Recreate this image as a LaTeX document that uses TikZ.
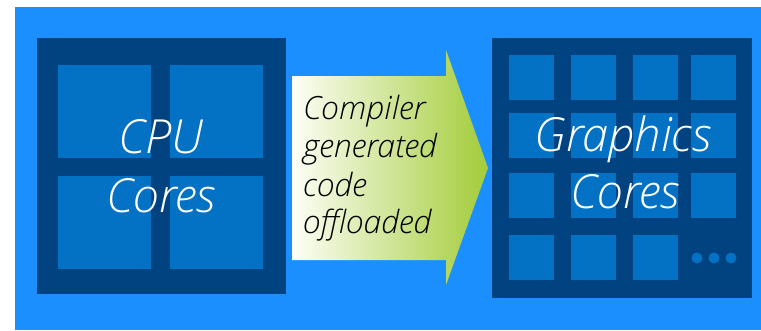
\documentclass[tikz,border=0pt]{standalone}
\usepackage{fontspec}
\setmainfont{Open Sans Light}[ItalicFont={Open Sans Light Italic}]
\definecolor{bgblue}{RGB}{28,143,255}
\definecolor{navy}{RGB}{0,67,128}
\definecolor{core}{RGB}{3,113,196}
\definecolor{ivory}{RGB}{253,254,246}
\definecolor{lime}{RGB}{163,204,58}
\begin{document}
\begin{tikzpicture}[x=1pt,y=-1pt,
  box/.style={fill=navy,inner sep=0pt,anchor=north west},
  cpucore/.style={fill=core,inner sep=0pt,anchor=north west,minimum width=93pt,minimum height=93pt},
  gcore/.style={fill=core,inner sep=0pt,anchor=north west,minimum width=45pt,minimum height=45pt},
  dot/.style={circle,fill=core,inner sep=0pt,minimum size=11pt},
  bigtxt/.style={text=white,inner sep=0pt,anchor=base,font=\fontsize{47}{47}\selectfont\itshape},
  arrtxt/.style={text=black,inner sep=0pt,anchor=base west,font=\fontsize{32}{32}\selectfont\itshape}]
\useasboundingbox (0,0) rectangle (761,330);
\fill[white] (0,0) rectangle (761,330);
\fill[bgblue] (15,7) rectangle (761,330);
% CPU box
\node[box,minimum width=249pt,minimum height=256pt] (cpu) at (37,38) {};
\node[cpucore] (c1) at (58,65) {};
\node[cpucore] (c2) at (170,65) {};
\node[cpucore] (c3) at (58,176) {};
\node[cpucore] (c4) at (170,176) {};
\node[bigtxt] (cput1) at (161,153) {CPU};
\node[bigtxt] (cput2) at (161,212) {Cores};
% Arrow
\shade[left color=ivory,right color=lime] (292,76) -- (446,76) -- (446,50) -- (488,168) -- (446,285) -- (446,260) -- (292,260) -- cycle;
\node[arrtxt] (a1) at (303,119) {Compiler};
\node[arrtxt] (a2) at (303,157) {generated};
\node[arrtxt] (a3) at (303,196) {code};
\node[arrtxt] (a4) at (303,233) {offloaded};
% Graphics box
\node[box,minimum width=260pt,minimum height=260pt] (gpu) at (492,38) {};
\foreach \r/\y in {1/55,2/113,3/173} {
  \foreach \c/\x in {1/509,2/571,3/633,4/691} {
    \node[gcore] (g\r\c) at (\x,\y) {};
  }
}
\node[gcore] (g41) at (509,235) {};
\node[gcore] (g42) at (571,235) {};
\node[gcore] (g43) at (633,235) {};
\node[dot] (d1) at (697,258) {};
\node[dot] (d2) at (714,258) {};
\node[dot] (d3) at (731,258) {};
\node[bigtxt] (gt1) at (623,151) {Graphics};
\node[bigtxt] (gt2) at (625,208) {Cores};
\end{tikzpicture}
\end{document}
